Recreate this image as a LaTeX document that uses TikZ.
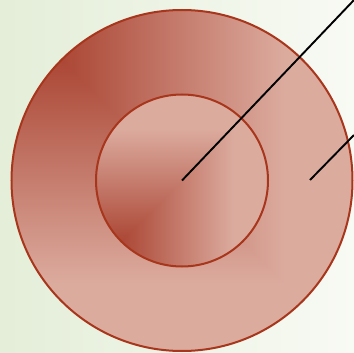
\documentclass[tikz,border=0pt]{standalone}
\usepackage{tikz}
\usetikzlibrary{positioning}

% rust corner-to-corner fill, dark at the top left
\pgfdeclarefunctionalshading{rustTL}{\pgfpoint{-50bp}{-50bp}}{\pgfpoint{50bp}{50bp}}{}{
  25 exch sub 50 div exch 25 add 50 div
  2 copy lt {exch} if pop
  0.1 sub 0.7 div dup 0 lt {pop 0} if dup 1 gt {pop 1} if
  dup 0.20 mul 0.66 add exch dup 0.42 mul 0.25 add exch 0.44 mul 0.18 add
}
% same fill, dark at the bottom left
\pgfdeclarefunctionalshading{rustBL}{\pgfpoint{-50bp}{-50bp}}{\pgfpoint{50bp}{50bp}}{}{
  25 add 50 div exch 25 add 50 div
  2 copy lt {exch} if pop
  0.1 sub 0.7 div dup 0 lt {pop 0} if dup 1 gt {pop 1} if
  dup 0.20 mul 0.66 add exch dup 0.42 mul 0.25 add exch 0.44 mul 0.18 add
}
\definecolor{rim}{HTML}{A8361C}
\definecolor{bgleft}{HTML}{E4EED8}
\definecolor{bgright}{HTML}{F8FAF4}

\begin{document}
\begin{tikzpicture}[x=1pt,y=-1pt,
      disc/.style={circle, draw=rim, line width=2pt, inner sep=0pt},
      lead/.style={draw=black, line width=1.9pt}]
    \shade[shading angle=60, left color=bgleft, right color=bgright] (0,0) rectangle (354,353);
    \useasboundingbox (0,0) rectangle (354,353);
    \node[disc, minimum size=341pt, shading=rustTL] (crust) at (182,180.5) {};
    \node[disc, minimum size=172pt, shading=rustBL] (core) at (182,180.5) {};
    \coordinate (mantle) at (310,180);
    \coordinate (tipA) at (354,0);
    \coordinate (tipB) at (354,135);
    \draw[lead] (core.center) -- (tipA);
    \draw[lead] (mantle) -- (tipB);
  \end{tikzpicture}
\end{document}
